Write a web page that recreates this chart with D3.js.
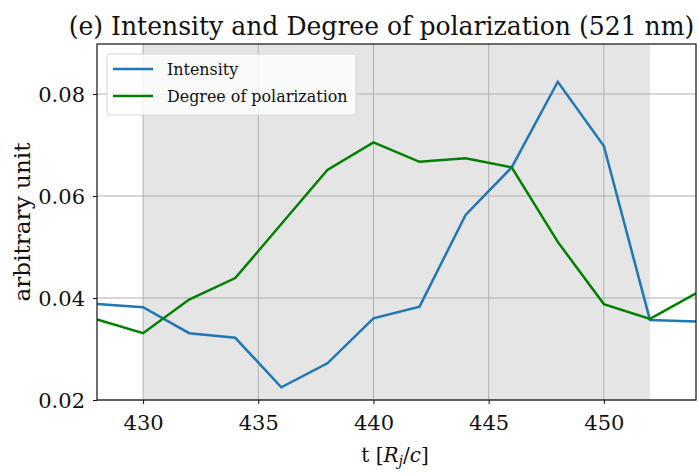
<!DOCTYPE html>
<html>
<head>
<meta charset="utf-8">
<script src="https://cdn.jsdelivr.net/npm/d3@7"></script>
<style>
  body { margin: 0; background: #fff; }
  text { font-family: "DejaVu Serif", serif; fill: #111; }
</style>
</head>
<body>
<script>
// chart data
const times = [428, 430, 432, 434, 436, 438, 440, 442, 444, 446, 448, 450, 452, 454];
const intensity = [0.0388, 0.0382, 0.0331, 0.0322, 0.0225, 0.0272, 0.0360, 0.0383, 0.0563, 0.0656, 0.0824, 0.0698, 0.0357, 0.0354];
const polarization = [0.0358, 0.0331, 0.0397, 0.0439, 0.0545, 0.0651, 0.0705, 0.0667, 0.0674, 0.0656, 0.0510, 0.0388, 0.0359, 0.0409];
const xTicks = [430, 435, 440, 445, 450];
const yTicks = [0.02, 0.04, 0.06, 0.08];
const shadeRange = [430, 452];
const seriesNames = ["Intensity", "Degree of polarization"];

const width = 699, height = 473;
const margin = {top: 44, right: 3, bottom: 73, left: 97};
const serif = "'DejaVu Serif', serif";

const svg = d3.select("body")
    .append("svg")
    .attr("width", width)
    .attr("height", height);

// shrink or grow a text node until it spans the given width
function fit(sel, target) {
    const base = parseFloat(sel.style("font-size"));
    const w = sel.node().getBBox().width;
    sel.style("font-size", (base * target / w) + "px");
}

const x = d3.scaleLinear()
    .domain([428, 454])
    .range([margin.left, width - margin.right]);

const y = d3.scaleLinear()
    .domain([0.02, 0.0898])
    .range([height - margin.bottom, margin.top]);

// shaded span
svg.append("rect")
    .attr("x", x(shadeRange[0]))
    .attr("y", margin.top)
    .attr("width", x(shadeRange[1]) - x(shadeRange[0]))
    .attr("height", y(0.02) - margin.top)
    .attr("fill", "#e5e5e5");

// grid
svg.append("g")
    .selectAll("line")
    .data(xTicks)
    .join("line")
    .attr("x1", d => x(d)).attr("x2", d => x(d))
    .attr("y1", margin.top).attr("y2", y(0.02))
    .attr("stroke", "#b0b0b0")
    .attr("stroke-width", 1);

svg.append("g")
    .selectAll("line")
    .data(yTicks)
    .join("line")
    .attr("x1", margin.left).attr("x2", width - margin.right)
    .attr("y1", d => y(d)).attr("y2", d => y(d))
    .attr("stroke", "#b0b0b0")
    .attr("stroke-width", 1);

// lines
const line = vals => d3.line()
    .x((d, i) => x(times[i]))
    .y(d => y(d))(vals);

svg.append("clipPath").attr("id", "clip")
    .append("rect")
    .attr("x", margin.left).attr("y", margin.top)
    .attr("width", width - margin.left - margin.right)
    .attr("height", y(0.02) - margin.top);

svg.append("path")
    .attr("d", line(intensity))
    .attr("fill", "none")
    .attr("stroke", "#1f77b4")
    .attr("stroke-width", 2.5)
    .attr("clip-path", "url(#clip)");

svg.append("path")
    .attr("d", line(polarization))
    .attr("fill", "none")
    .attr("stroke", "#008000")
    .attr("stroke-width", 2.5)
    .attr("clip-path", "url(#clip)");

// frame
svg.append("rect")
    .attr("x", margin.left)
    .attr("y", margin.top)
    .attr("width", width - margin.left - margin.right)
    .attr("height", y(0.02) - margin.top)
    .attr("fill", "none")
    .attr("stroke", "#111")
    .attr("stroke-width", 1.2);

// axes
const xAxis = svg.append("g")
    .attr("transform", `translate(0, ${y(0.02)})`)
    .call(d3.axisBottom(x).tickValues(xTicks).tickSize(4).tickPadding(6).tickFormat(d3.format("d")));

const yAxis = svg.append("g")
    .attr("transform", `translate(${margin.left}, 0)`)
    .call(d3.axisLeft(y).tickValues(yTicks).tickSize(4).tickPadding(8).tickFormat(d3.format(".2f")));

[xAxis, yAxis].forEach(g => {
    g.attr("font-family", null);
    g.select(".domain").remove();
    g.selectAll(".tick line").attr("stroke", "#111").attr("stroke-width", 1);
    g.selectAll("text")
        .attr("fill", "#222")
        .style("font-family", serif)
        .style("font-size", "21px");
});
xAxis.selectAll("text").attr("dy", "0.95em");
yAxis.selectAll("text").attr("dy", "0.36em");

// title
const title = svg.append("text")
    .attr("x", (margin.left + width - margin.right) / 2 - 15)
    .attr("y", 35)
    .attr("text-anchor", "middle")
    .style("font-size", "26px")
    .text("(e) Intensity and Degree of polarization (521 nm)");
fit(title, 626);

// y label
const ylab = svg.append("text")
    .attr("transform", `translate(30, ${(margin.top + y(0.02)) / 2}) rotate(-90)`)
    .attr("text-anchor", "middle")
    .style("font-size", "20px")
    .text("arbitrary unit");
fit(ylab, 159);

// x label
const xl = svg.append("text")
    .attr("x", 395)
    .attr("y", 462)
    .attr("text-anchor", "middle")
    .style("font-size", "20px");
xl.append("tspan").text("t [");
xl.append("tspan").style("font-style", "italic").text("R");
xl.append("tspan").style("font-style", "italic").style("font-size", "14px").attr("dy", 4).text("j");
xl.append("tspan").attr("dy", -4).text("/");
xl.append("tspan").style("font-style", "italic").text("c");
xl.append("tspan").text("]");

// legend
const legend = svg.append("g");
legend.append("rect")
    .attr("x", 107).attr("y", 54)
    .attr("width", 249).attr("height", 61)
    .attr("rx", 3)
    .attr("fill", "#fff").attr("fill-opacity", 0.8)
    .attr("stroke", "#d6d6d6");

const colors = ["#1f77b4", "#008000"];
seriesNames.forEach((name, i) => {
    const ly = 69 + i * 27;
    legend.append("line")
        .attr("x1", 113).attr("x2", 153)
        .attr("y1", ly).attr("y2", ly)
        .attr("stroke", colors[i]).attr("stroke-width", 2.5);
    legend.append("text")
        .attr("x", 167).attr("y", ly)
        .attr("dy", "0.35em")
        .style("font-size", "15px")
        .text(name);
});
// size legend text so the longer label spans the same width as in the figure
const longest = legend.selectAll("text").filter((d, i) => i === 1);
fit(longest, 181);
legend.selectAll("text").style("font-size", longest.style("font-size"));
</script>
</body>
</html>
